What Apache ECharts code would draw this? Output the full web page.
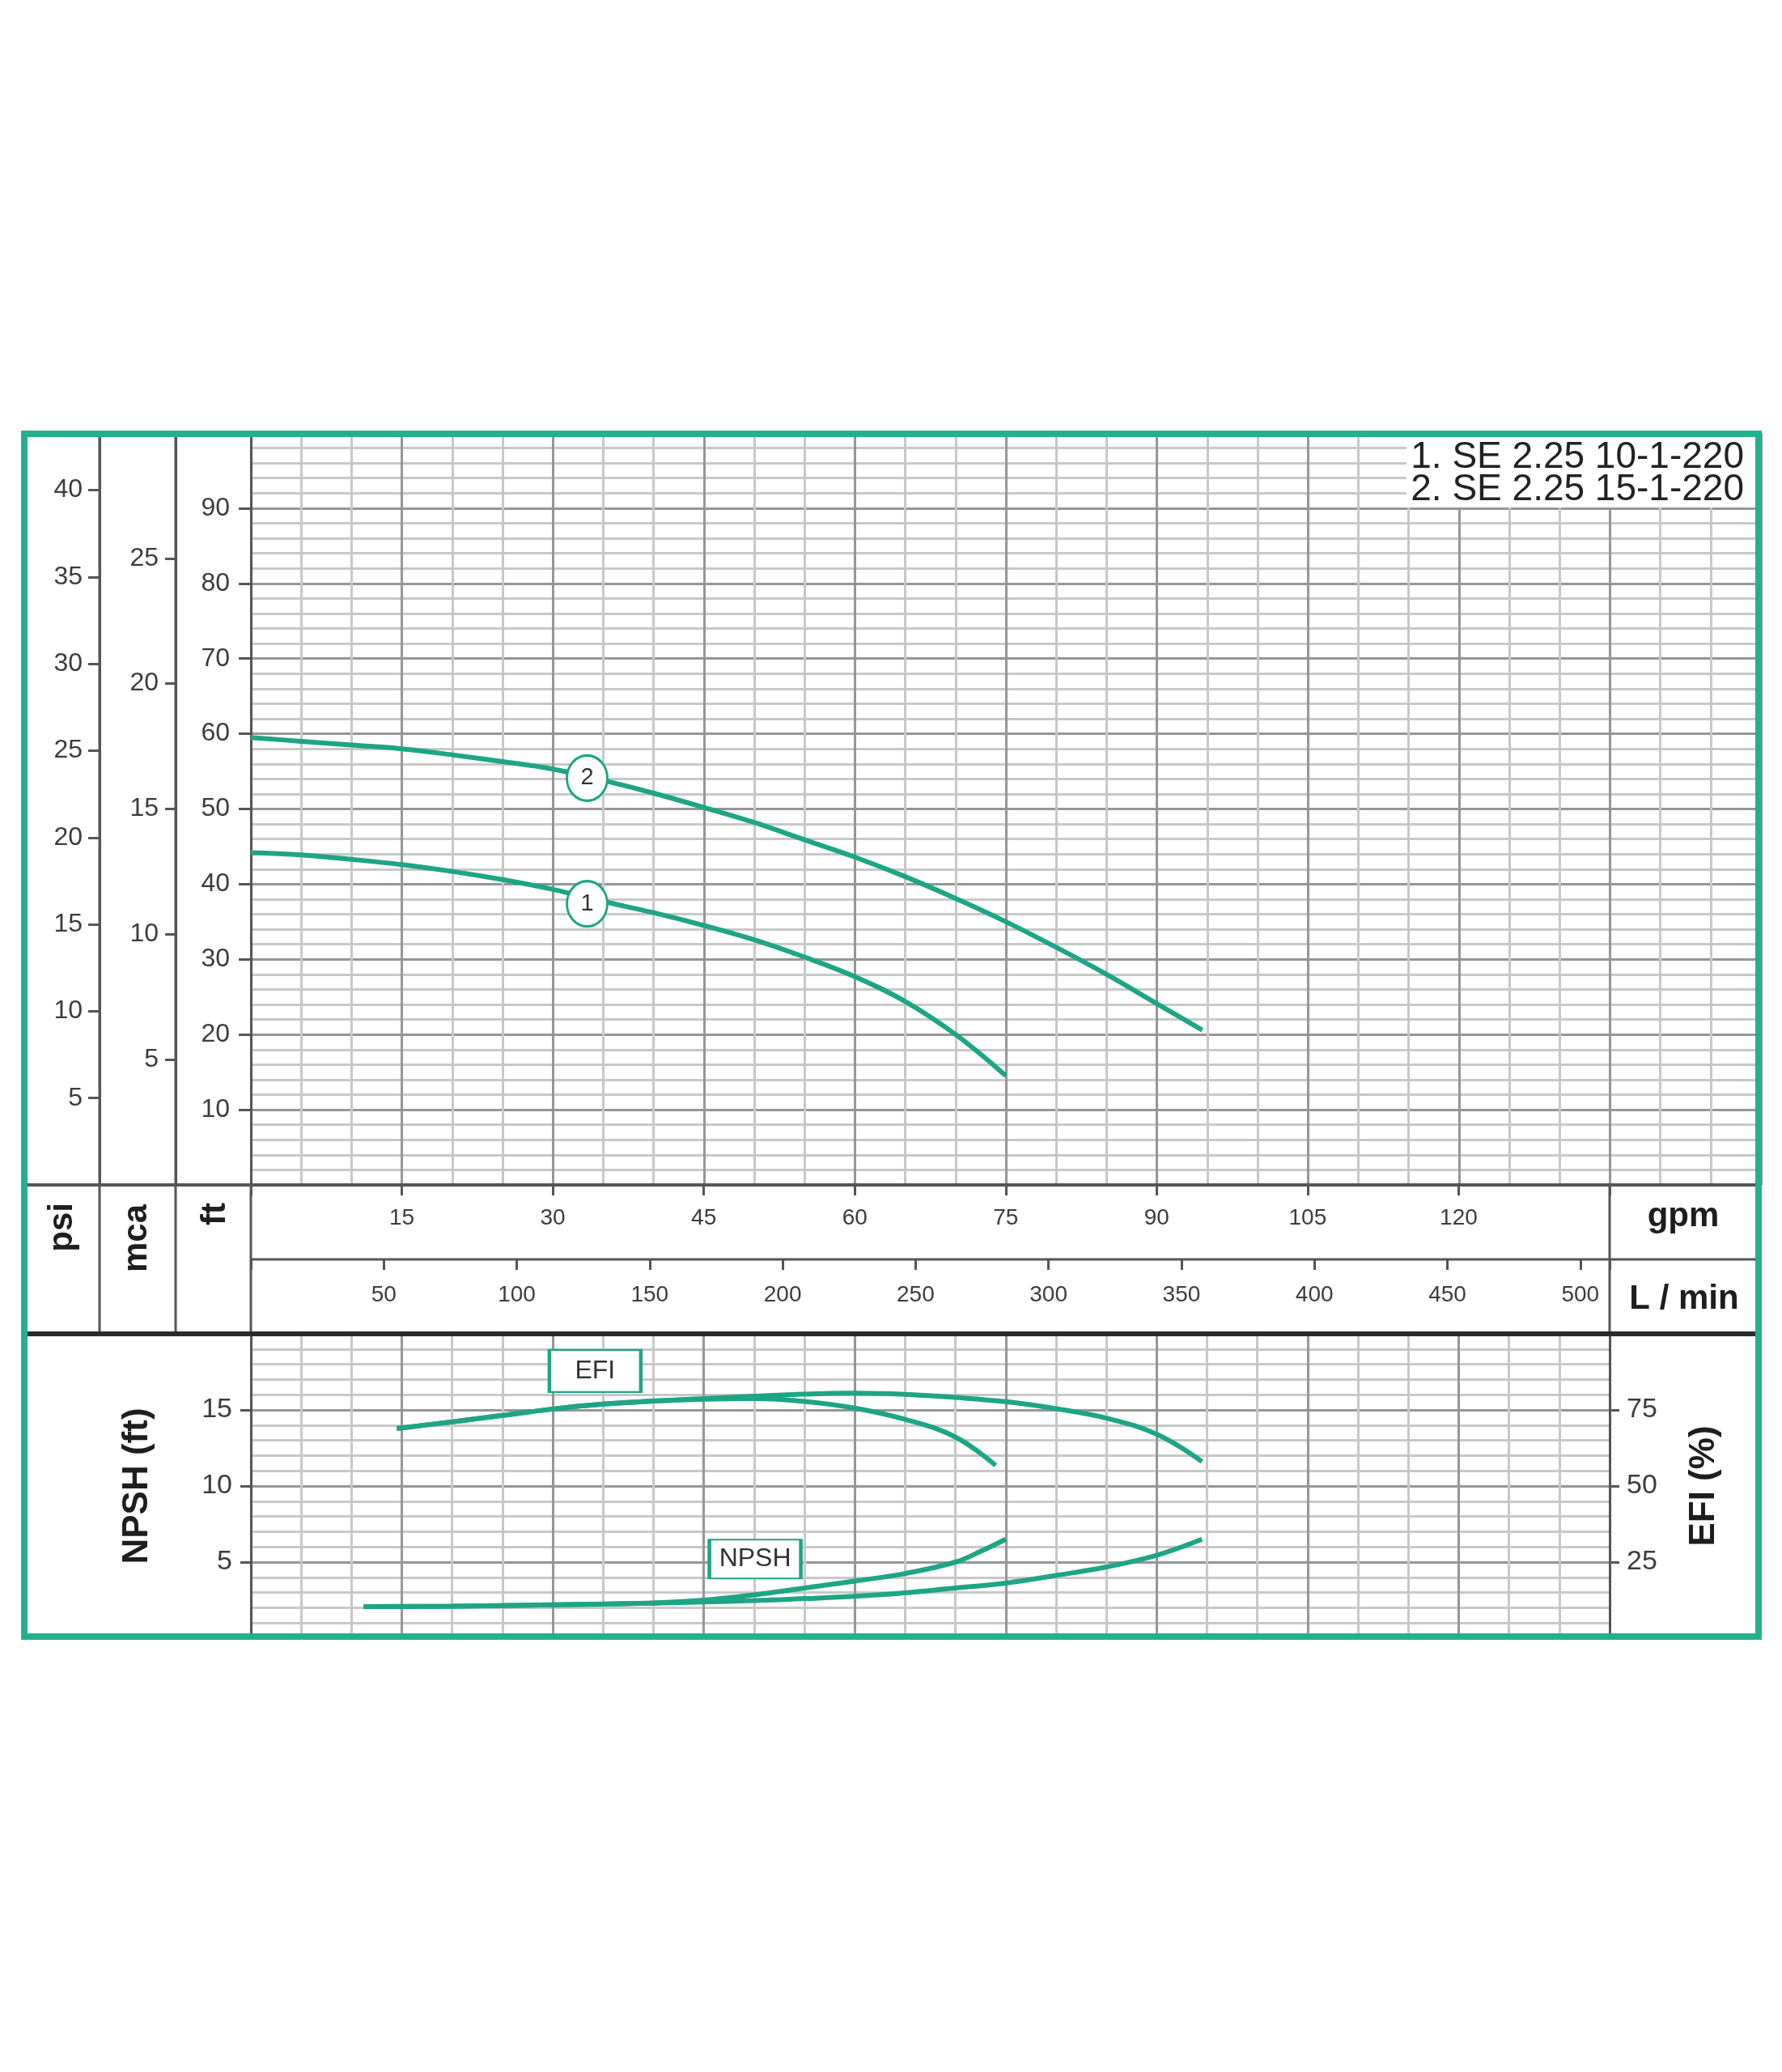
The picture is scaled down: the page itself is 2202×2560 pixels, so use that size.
<!DOCTYPE html>
<html>
<head>
<meta charset="utf-8">
<title>SE 2.25 pump curves</title>
<script src="https://cdn.jsdelivr.net/npm/echarts@6/dist/echarts.min.js"></script>
<style>
  html, body { margin: 0; padding: 0; background: #fff; }
  #chart { width: 2202px; height: 2560px; }
</style>
</head>
<body>
<div id="chart"></div>
<script>
// head curves: flow in gpm, head in ft
const flow1 = [0, 5, 10, 15, 20, 25, 30, 35, 40, 45, 50, 55, 60, 65, 70, 75];
const head1 = [44.2, 43.9, 43.3, 42.6, 41.7, 40.6, 39.3, 37.7, 36.2, 34.5, 32.6, 30.3, 27.7, 24.4, 20.0, 14.5];
const flow2 = [0, 5, 10, 15, 20, 25, 30, 35, 40, 45, 50, 55, 60, 65, 70, 75, 80, 85, 90, 94.5];
const head2 = [59.5, 59.0, 58.5, 58.0, 57.2, 56.3, 55.3, 53.8, 52.1, 50.2, 48.2, 45.9, 43.6, 41.0, 38.1, 35.0, 31.6, 28.0, 24.1, 20.6];

// efficiency (%) curves
const effFlow1 = [14.5, 20, 25, 30, 35, 40, 45, 50, 55, 60, 65, 70, 74];
const eff1 = [68.9, 71.1, 73.2, 75.3, 76.9, 77.9, 78.5, 78.7, 77.8, 75.6, 71.9, 66.1, 56.8];
const effFlow2 = [14.5, 20, 25, 30, 35, 40, 45, 50, 55, 60, 65, 70, 75, 80, 85, 90, 94.5];
const eff2 = [68.9, 71.1, 73.2, 75.3, 76.9, 77.9, 78.7, 79.5, 80.2, 80.5, 80.1, 79.1, 77.7, 75.4, 72.3, 67.0, 58.0];

// NPSH (ft) curves
const npshFlow1 = [11.2, 20, 30, 40, 45, 50, 55, 60, 65, 70, 72.5, 75];
const npsh1 = [2.07, 2.1, 2.19, 2.32, 2.5, 2.85, 3.3, 3.75, 4.25, 5.0, 5.7, 6.5];
const npshFlow2 = [11.2, 20, 30, 40, 45, 50, 55, 60, 65, 70, 75, 80, 85, 90, 94.5];
const npsh2 = [2.07, 2.1, 2.19, 2.3, 2.38, 2.47, 2.6, 2.75, 2.98, 3.3, 3.62, 4.12, 4.68, 5.45, 6.5];

// curve tags and boxes
const curveTags = ['1', '2'];
const tagFlow = [33.4, 33.4];
const tagHead = [37.4, 54.1];
const effTag = [34.2, 87.8];     // gpm, %
const npshTag = [50.1, 5.2];     // gpm, ft

const legendLines = ['1. SE 2.25 10-1-220', '2. SE 2.25 15-1-220'];

// axis extents
const gpmMax = 150, bandGpmMax = 135;
const lpmMax = bandGpmMax * 3.78541;
const ftMax = 100, mcaMax = 30, psiMax = 100 / 2.31;

const TEAL = '#1ea585';
const FRAME = '#24b08f';
const DARK = '#555';
const FONT = 'Liberation Sans, Arial, sans-serif';

// layout (px)
const P = { left: 310, top: 535, right: 2176, band: 1989, mainB: 1464, gpmB: 1556, lpmB: 1648, bot: 2024,
            fL: 30, fR: 2173, fT: 536, fB: 2022, psiX: 123, mcaX: 217 };

const pairs = (xs, ys) => xs.map((x, i) => [x, ys[i]]);
const majorLine = { show: true, lineStyle: { color: '#969696', width: 3 } };
const minorLine = { show: true, lineStyle: { color: '#c8c8c8', width: 3 } };
const labelStyle = (size, extra) => Object.assign({ fontSize: size, color: '#3c3c3c', fontFamily: FONT }, extra);
const curve = (name, data, xi, yi, extra) => Object.assign({
  name, type: 'line', data, xAxisIndex: xi, yAxisIndex: yi,
  smooth: 0.4, showSymbol: false, symbol: 'none',
  lineStyle: { color: TEAL, width: 6 }, z: 5
}, extra);
const tagPoint = (text, coord, size, fontSize, symbol) => ({
  symbol, symbolSize: size, z: 8,
  itemStyle: { color: '#fff', borderColor: TEAL, borderWidth: 3 },
  label: { show: true, color: '#333', fontSize, fontFamily: FONT, formatter: text },
  data: [{ coord }]
});

const chart = echarts.init(document.getElementById('chart'));

const hline = (x1, x2, y, w, c) => ({ type: 'line', z: 20, shape: { x1, y1: y, x2, y2: y }, style: { stroke: c || DARK, lineWidth: w } });
const vline = (x, y1, y2, w) => ({ type: 'line', z: 20, shape: { x1: x, y1, x2: x, y2 }, style: { stroke: DARK, lineWidth: w } });
const txt = (text, x, y, size, opt) => Object.assign({
  type: 'text', x, y, z: 30,
  style: Object.assign({ text, fontSize: size, fontWeight: 'bold', fontFamily: FONT, fill: '#1e1e1e',
    align: 'center', textAlign: 'center', verticalAlign: 'middle', textVerticalAlign: 'middle' }, opt && opt.style)
}, opt && opt.el);
const upText = (text, x, yTop, size) => txt(text, x, yTop, size, {
  el: { rotation: Math.PI / 2 },
  style: { align: 'right', textAlign: 'right' }
});
// flat grid whose bottom axis carries a flow scale
const scaleAxis = (gi, max, step, margin, fmt) => ({
  gridIndex: gi, type: 'value', position: 'bottom', min: 0, max, interval: step,
  axisLine: { show: false },
  axisTick: { show: true, length: 13, lineStyle: { color: DARK, width: 3 } },
  axisLabel: labelStyle(28, { margin, formatter: fmt }),
  splitLine: { show: false }
});

chart.setOption({
  backgroundColor: '#fff',
  animation: false,
  grid: [
    { left: P.left, top: P.top, width: P.right - P.left, height: P.mainB - P.top, outerBoundsMode: 'none' },
    { left: P.left, top: P.mainB - 1, width: P.band - P.left, height: 1, outerBoundsMode: 'none' },
    { left: P.left, top: P.gpmB - 1, width: P.band - P.left, height: 1, outerBoundsMode: 'none' },
    { left: P.left, top: P.lpmB, width: P.band - P.left, height: P.bot - P.lpmB, outerBoundsMode: 'none' }
  ],
  xAxis: [
    { gridIndex: 0, type: 'value', min: 0, max: gpmMax, interval: 15,
      axisLine: { show: false }, axisTick: { show: false }, axisLabel: { show: false },
      minorTick: { show: false, splitNumber: 3 },
      splitLine: majorLine, minorSplitLine: minorLine },
    scaleAxis(1, bandGpmMax, 15, 27, v => (v > 0 && v <= 120) ? v : ''),
    scaleAxis(2, lpmMax, 50, 30, v => (v > 0 && v % 50 === 0) ? v : ''),
    { gridIndex: 3, type: 'value', min: 0, max: bandGpmMax, interval: 15,
      axisLine: { show: false }, axisTick: { show: false }, axisLabel: { show: false },
      minorTick: { show: false, splitNumber: 3 },
      splitLine: majorLine, minorSplitLine: minorLine }
  ],
  yAxis: [
    { gridIndex: 0, type: 'value', min: 0, max: ftMax, interval: 10, position: 'left',
      axisLine: { show: true, lineStyle: { color: DARK, width: 3 } },
      axisTick: { show: true, length: 15, lineStyle: { color: DARK, width: 3 } },
      axisLabel: labelStyle(32, { margin: 26, formatter: v => (v > 0 && v < ftMax) ? v : '' }),
      minorTick: { show: false, splitNumber: 5 },
      splitLine: majorLine, minorSplitLine: minorLine },
    { gridIndex: 0, type: 'value', min: 0, max: mcaMax, interval: 5, position: 'left', offset: P.left - P.mcaX,
      axisLine: { show: true, lineStyle: { color: DARK, width: 3 } },
      axisTick: { show: true, length: 13, lineStyle: { color: DARK, width: 3 } },
      axisLabel: labelStyle(32, { margin: 21, formatter: v => (v > 0 && v < mcaMax) ? v : '' }),
      splitLine: { show: false } },
    { gridIndex: 0, type: 'value', min: 0, max: psiMax, interval: 5, position: 'left', offset: P.left - P.psiX,
      axisLine: { show: true, lineStyle: { color: DARK, width: 3 } },
      axisTick: { show: true, length: 14, lineStyle: { color: DARK, width: 3 } },
      axisLabel: labelStyle(32, { margin: 21, formatter: v => (v > 0 && v % 5 === 0) ? v : '' }),
      splitLine: { show: false } },
    { gridIndex: 1, show: false, min: 0, max: 1 },
    { gridIndex: 2, show: false, min: 0, max: 1 },
    { gridIndex: 3, type: 'value', min: 0, max: 20, interval: 5, position: 'left',
      name: 'NPSH (ft)', nameLocation: 'middle', nameRotate: 90, nameGap: 118,
      nameTextStyle: { fontSize: 44, fontWeight: 'bold', color: '#1e1e1e', fontFamily: FONT },
      axisLine: { show: true, lineStyle: { color: DARK, width: 3 } },
      axisTick: { show: true, length: 13, lineStyle: { color: DARK, width: 3 } },
      axisLabel: labelStyle(34, { margin: 23, formatter: v => (v > 0 && v < 20) ? v : '' }),
      minorTick: { show: false, splitNumber: 5 },
      splitLine: majorLine, minorSplitLine: minorLine },
    { gridIndex: 3, type: 'value', min: 0, max: 100, interval: 25, position: 'right',
      name: 'EFI (%)', nameLocation: 'middle', nameRotate: 90, nameGap: 95,
      nameTextStyle: { fontSize: 44, fontWeight: 'bold', color: '#1e1e1e', fontFamily: FONT },
      axisLine: { show: true, lineStyle: { color: DARK, width: 3 } },
      axisTick: { show: true, length: 12, lineStyle: { color: DARK, width: 3 } },
      axisLabel: labelStyle(34, { margin: 21, formatter: v => (v > 0 && v < 100) ? v : '' }),
      splitLine: { show: false } }
  ],
  series: [
    curve('SE 2.25 10-1-220', pairs(flow1, head1), 0, 0, {
      markPoint: tagPoint(curveTags[0], [tagFlow[0], tagHead[0]], [50, 56], 29, 'circle')
    }),
    curve('SE 2.25 15-1-220', pairs(flow2, head2), 0, 0, {
      markPoint: tagPoint(curveTags[1], [tagFlow[1], tagHead[1]], [50, 56], 29, 'circle')
    }),
    curve('EFI 1', pairs(effFlow1, eff1), 3, 6),
    curve('EFI 2', pairs(effFlow2, eff2), 3, 6, {
      markPoint: tagPoint('EFI', effTag, [113, 52], 32, 'rect')
    }),
    curve('NPSH 1', pairs(npshFlow1, npsh1), 3, 5),
    curve('NPSH 2', pairs(npshFlow2, npsh2), 3, 5, {
      markPoint: tagPoint('NPSH', npshTag, [113, 48], 32, 'rect')
    })
  ],
  graphic: [
    // column dividers of the scale block
    vline(P.psiX, P.fT, P.lpmB, 3),
    vline(P.mcaX, P.fT, P.lpmB, 3),
    vline(P.left, P.mainB, P.lpmB, 3),
    vline(P.band, P.mainB, P.lpmB, 3),
    // rows of the flow scales
    hline(P.fL, P.fR, P.mainB, 4),
    hline(P.left, P.fR, P.gpmB, 3),
    hline(P.fL, P.fR, P.lpmB, 6, '#2b2b2b'),
    // unit names
    upText('psi', 77, 1486, 42),
    upText('mca', 169, 1488, 42),
    upText('ft', 266, 1486, 42),
    txt('gpm', 2080, 1503, 42),
    txt('L / min', 2081, 1605, 42),
    // model legend
    { type: 'rect', z: 25, shape: { x: 1738, y: P.fT, width: P.fR - 1738, height: 91 }, style: { fill: '#fff' } },
    txt(legendLines[0], 2155, 565, 46, { style: { fontWeight: 'normal', align: 'right', textAlign: 'right', fill: '#222' } }),
    txt(legendLines[1], 2155, 605, 46, { style: { fontWeight: 'normal', align: 'right', textAlign: 'right', fill: '#222' } }),
    // outer frame
    { type: 'rect', z: 100, shape: { x: P.fL, y: P.fT, width: P.fR - P.fL, height: P.fB - P.fT },
      style: { fill: 'none', stroke: FRAME, lineWidth: 8 } }
  ]
});
</script>
</body>
</html>
